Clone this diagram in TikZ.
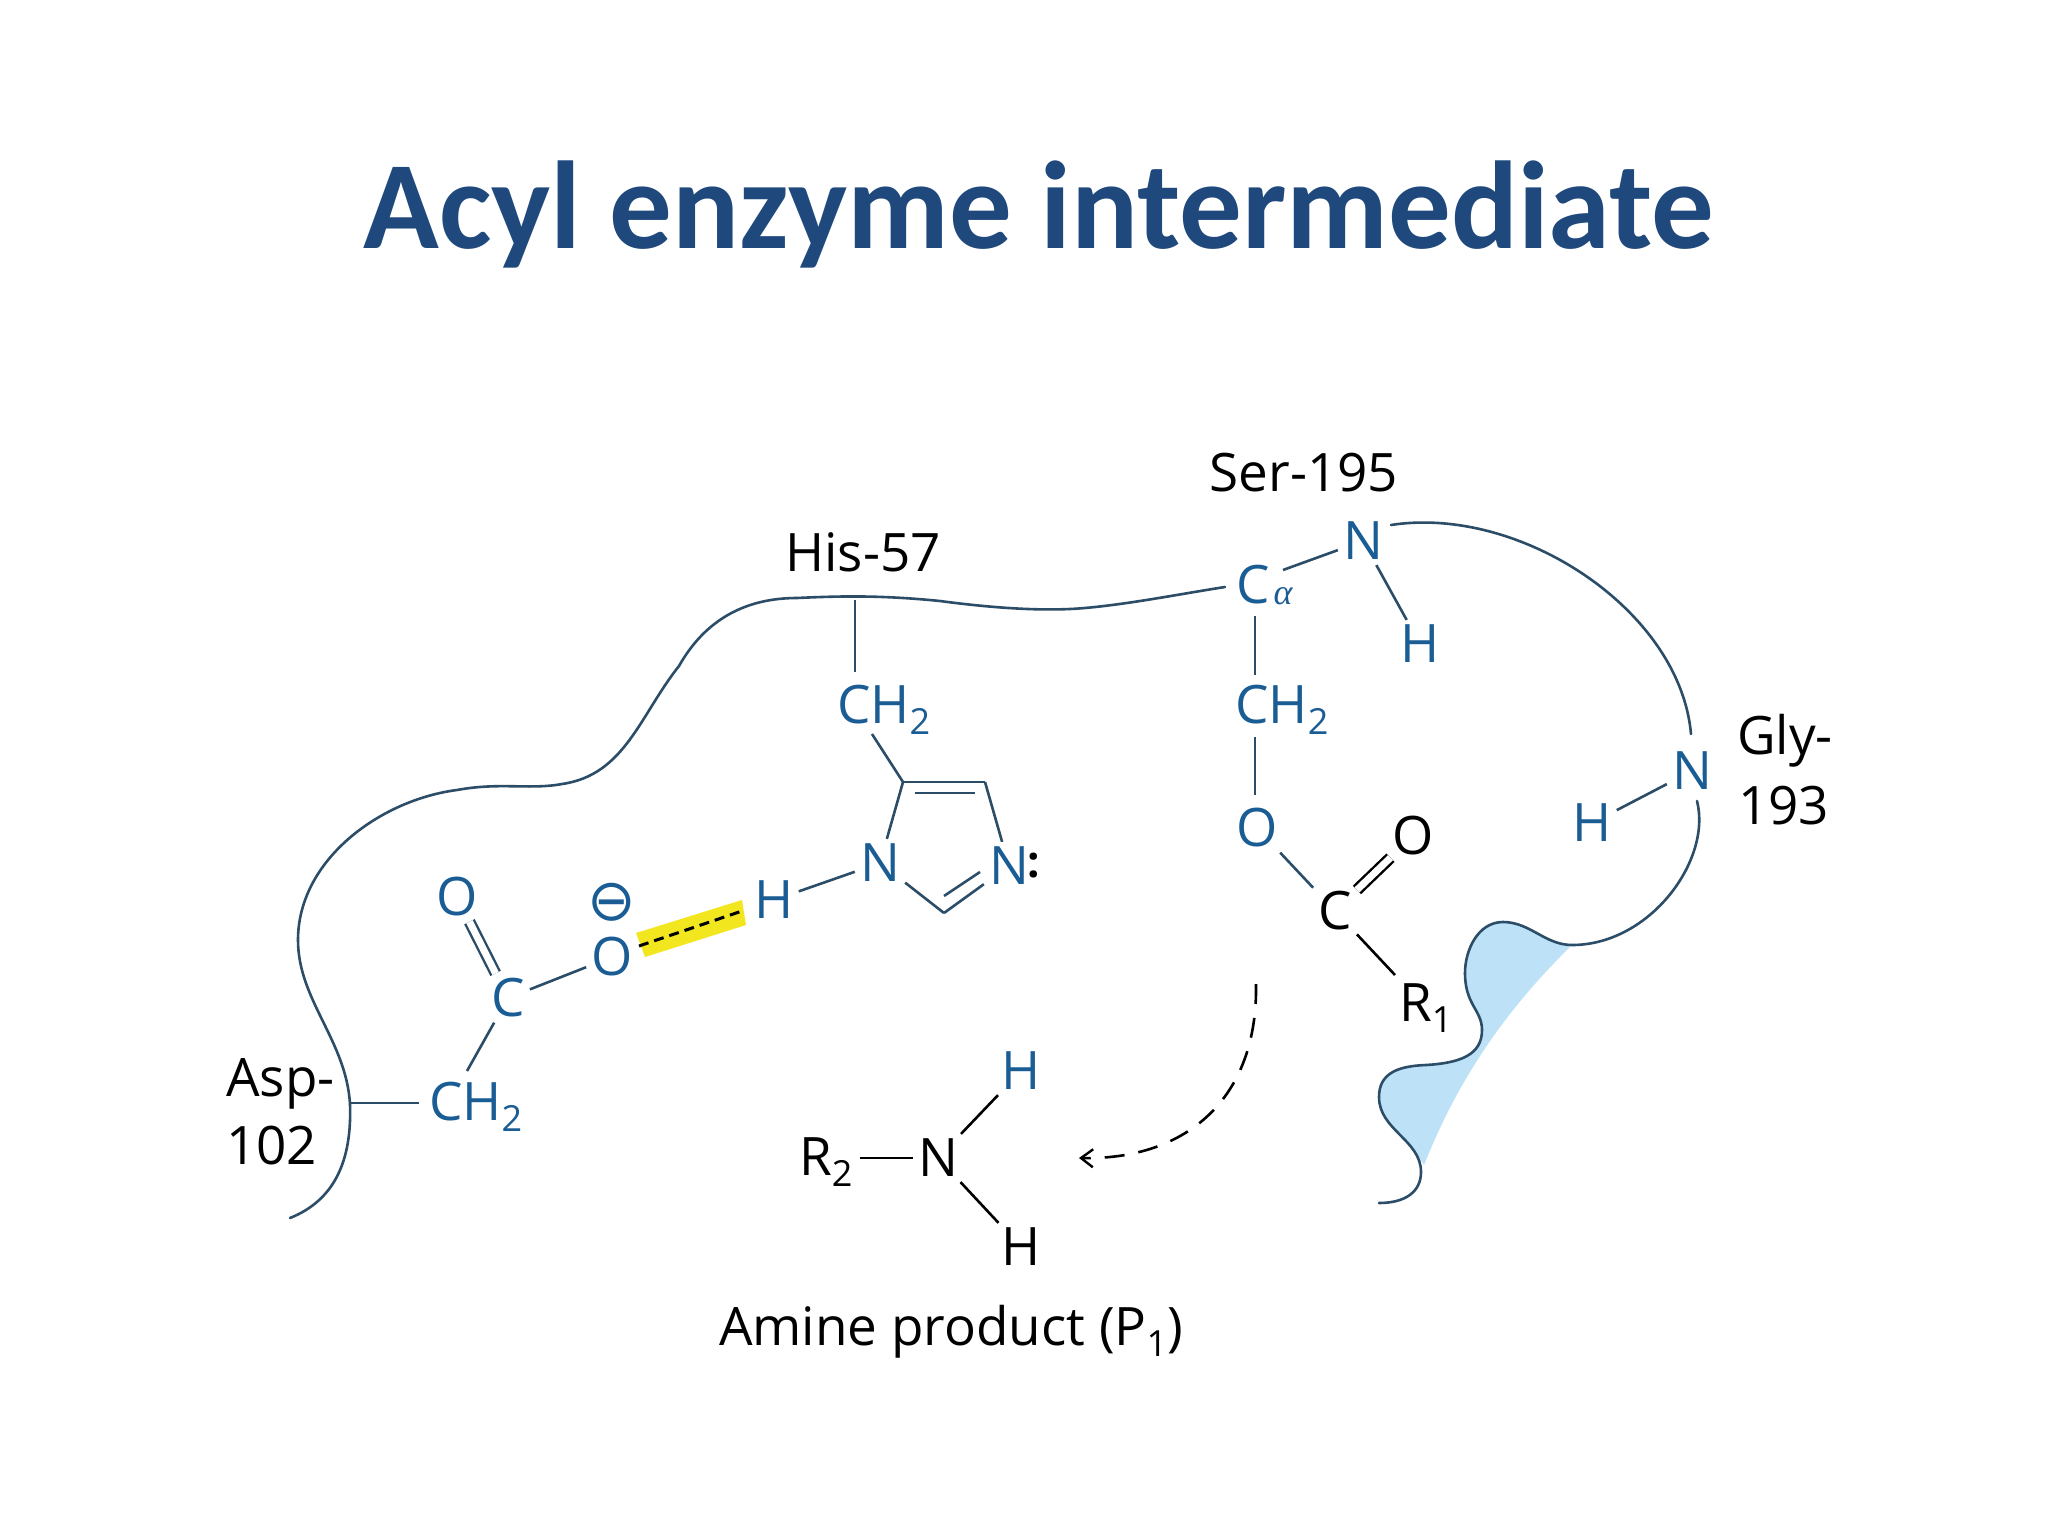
\documentclass[tikz,border=0pt]{standalone}
\usepackage{fontspec}
\setmainfont{Open Sans}
\newfontfamily\titlefont{Carlito}
\newfontfamily\greekfont{Liberation Serif}
\newfontfamily\symfont{DejaVu Sans}
\usetikzlibrary{arrows.meta,calc}
\definecolor{titleblue}{HTML}{1F497D}
\definecolor{atomblue}{HTML}{1A5C94}
\definecolor{chainblue}{HTML}{2C4D68}
\definecolor{pocketblue}{HTML}{BDE1F6}
\definecolor{hilite}{HTML}{F2E61E}
\newcommand{\subs}[1]{\raisebox{-11pt}{\fontsize{36}{36}\selectfont #1}}
\tikzset{
  lab/.style={font=\fontsize{53}{60}\selectfont,text=black,inner sep=0pt},
  atom/.style={font=\fontsize{53}{60}\selectfont,text=atomblue,inner sep=5pt},
  atomk/.style={atom,text=black},
  bond/.style={draw=chainblue,line width=2.6pt},
  bondk/.style={draw=black,line width=2.6pt},
  dbl/.style={double=white,double distance=7pt,line width=2.4pt},
  chain/.style={draw=chainblue,line width=2.6pt,line cap=round},
}
\begin{document}
\begin{tikzpicture}[x=1pt,y=-1pt]
\useasboundingbox (0,0) rectangle (2048,1536);
\fill[white] (0,0) rectangle (2048,1536);
% title
\node[font=\titlefont\bfseries\fontsize{125}{130}\selectfont,text=titleblue,inner sep=0pt] (title) at (1039,214) {Acyl enzyme intermediate};
% pocket
\fill[pocketblue] (1572,945) .. controls (1545,945) and (1530,922) .. (1503,922)
  .. controls (1478,922) and (1465,950) .. (1465,973)
  .. controls (1465,1005) and (1482,1010) .. (1482,1030)
  .. controls (1482,1055) and (1460,1063) .. (1426,1065)
  .. controls (1400,1066) and (1379,1072) .. (1379,1097)
  .. controls (1379,1125) and (1410,1140) .. (1424,1165)
  .. controls (1450,1100) and (1490,1025) .. (1572,945) -- cycle;
% backbone
\draw[chain] (290,1218) .. controls (335,1200) and (352,1160) .. (350,1104)
  .. controls (346,1040) and (298,1000) .. (298,940)
  .. controls (298,860) and (380,800) .. (457,790)
  .. controls (500,782) and (530,790) .. (562,784)
  .. controls (625,775) and (640,715) .. (679,666)
  .. controls (705,620) and (745,598) .. (797,598)
  .. controls (840,596) and (880,595) .. (940,601)
  .. controls (985,607) and (1040,612) .. (1085,608)
  .. controls (1130,604) and (1180,594) .. (1225,587);
\draw[chain] (1391,525) .. controls (1520,505) and (1680,610) .. (1691,734);
\draw[chain] (1697,801) .. controls (1712,860) and (1650,945) .. (1572,945)
  .. controls (1545,945) and (1530,922) .. (1503,922)
  .. controls (1478,922) and (1465,950) .. (1465,973)
  .. controls (1465,1005) and (1482,1010) .. (1482,1030)
  .. controls (1482,1055) and (1460,1063) .. (1426,1065)
  .. controls (1400,1066) and (1379,1072) .. (1379,1097)
  .. controls (1379,1130) and (1421,1140) .. (1421,1172)
  .. controls (1421,1192) and (1405,1203) .. (1379,1203);
% labels
\node[lab] (his) at (863,552) {His-57};
\node[lab] (ser) at (1304,473) {Ser-195};
\node[lab,anchor=base west] (asp) at (226,1096) {Asp-};
\node[lab,anchor=base west] (n102) at (226,1164) {102};
\node[lab,anchor=base west] (gly) at (1737,754) {Gly-};
\node[lab,anchor=base west] (n193) at (1738,824) {193};
\node[lab,anchor=base] (amine) at (951,1345) {Amine product (P\subs{1})};
% atoms, Asp side
\node[atom] (oa1) at (457,897) {O};
\node[atom] (ca) at (508,998) {C};
\node[atom] (oa2) at (612,957) {O};
\node[font=\symfont\fontsize{58}{60}\selectfont,text=atomblue,inner sep=0pt] (minus) at (612,902) {⊖};
\node[atom,inner sep=0pt,anchor=base west] (ch2a) at (429,1120) {CH\subs{2}};
\coordinate (aspb) at (350,1103);
\coordinate (ch2al) at (419,1103);
\coordinate (ch2at) at (467,1071);
\draw[bond] (aspb) -- (ch2al);
\draw[bond] (ch2at) -- (ca);
\draw[bond] (ca) -- (oa2);
\draw[bond,dbl] (oa1) -- (ca);
% H bond
\node[atom] (hh) at (774,900) {H};
\fill[hilite] (636,933) -- (742,900) -- (746,925) -- (645,957) -- cycle;
\coordinate (hb1) at (639,946);
\coordinate (hb2) at (745,910);
\draw[black,line width=3pt,dash pattern=on 10pt off 6pt] (hb1) -- (hb2);
% His ring
\node[atom] (n1) at (880,863) {N};
\node[atom] (n3) at (1009,866) {N};
\node[font=\bfseries\fontsize{44}{50}\selectfont,text=black,inner sep=0pt] (colon) at (1034,866) {:};
\node[atom,inner sep=0pt,anchor=base west] (ch2h) at (837,723) {CH\subs{2}};
\coordinate (hisb) at (855,600);
\coordinate (ch2ht) at (855,672);
\coordinate (ch2hb) at (872,734);
\coordinate (c4) at (903,782);
\coordinate (c5) at (985,782);
\coordinate (c2) at (944,913);
\coordinate (c4i) at (915,793);
\coordinate (c5i) at (975,793);
\coordinate (c2i) at (944,896);
\coordinate (n3i) at (980,872);
\draw[bond] (hisb) -- (ch2ht);
\draw[bond] (ch2hb) -- (c4);
\draw[bond] (n1) -- (c4);
\draw[bond] (c4) -- (c5);
\draw[bond] (c5) -- (n3);
\draw[bond] (n1) -- (c2);
\draw[bond] (c2) -- (n3);
\draw[bond] (c4i) -- (c5i);
\draw[bond] (c2i) -- (n3i);
\draw[bond] (hh) -- (n1);
% Ser
\node[atom] (cal) at (1253,585) {C};
\node[font=\greekfont\itshape\fontsize{36}{36}\selectfont,text=atomblue,inner sep=0pt] (alpha) at (1283,596) {α};
\node[atom] (ns) at (1363,541) {N};
\node[atom] (hs) at (1420,644) {H};
\node[atom,inner sep=0pt,anchor=base west] (ch2s) at (1235,723) {CH\subs{2}};
\node[atom] (os) at (1257,828) {O};
\node[atomk] (cs) at (1335,911) {C};
\node[atomk,inner sep=2pt] (ok) at (1413,836) {O};
\node[atomk,inner sep=0pt,anchor=base west] (r1) at (1399,1021) {R\subs{1}};
\coordinate (cab) at (1255,616);
\coordinate (ch2st) at (1255,675);
\coordinate (ch2sb) at (1255,737);
\coordinate (osT) at (1255,795);
\coordinate (caN) at (1283,570);
\coordinate (r1t) at (1395,975);
\draw[bond] (caN) -- (ns);
\draw[bond] (ns) -- (hs);
\draw[bond] (cab) -- (ch2st);
\draw[bond] (ch2sb) -- (osT);
\draw[bond] (os) -- (cs);
\draw[bondk,dbl] (cs) -- (ok);
\draw[bondk] (cs) -- (r1t);
% Gly
\node[atom] (ng) at (1692,771) {N};
\node[atom] (hg) at (1592,823) {H};
\draw[bond] (hg) -- (ng);
% amine
\node[atomk,inner sep=0pt,anchor=base west] (r2) at (799,1175) {R\subs{2}};
\node[atomk] (nam) at (938,1158) {N};
\node[atom] (ham) at (1021,1071) {H};
\node[atomk] (hbm) at (1021,1247) {H};
\coordinate (r2e) at (860,1158);
\draw[bondk] (r2e) -- (nam);
\draw[bondk] (nam) -- (ham);
\draw[bondk] (nam) -- (hbm);
% dashed arrow
\coordinate (as) at (1256,984);
\coordinate (ae) at (1079,1158);
\draw[black,line width=2.6pt,dash pattern=on 20pt off 14pt,-{Straight Barb[length=12pt,width=18pt,line width=2.4pt]}] (as) .. controls (1258,1100) and (1185,1160) .. (ae);
\end{tikzpicture}
\end{document}
